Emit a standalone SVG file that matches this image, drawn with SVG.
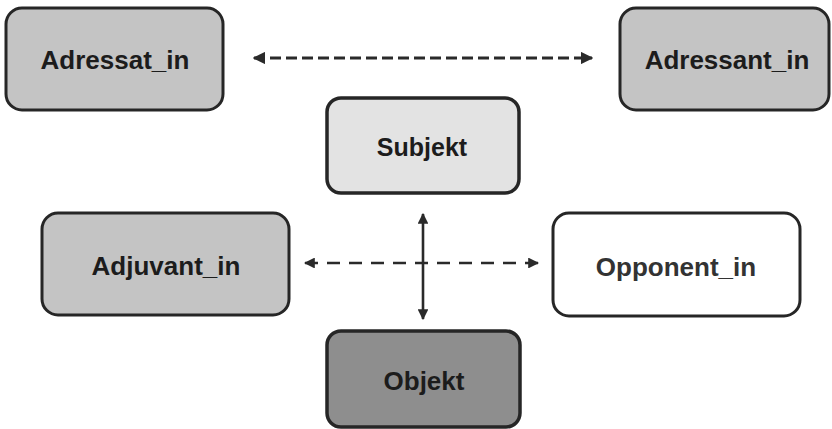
<svg xmlns="http://www.w3.org/2000/svg" width="832" height="429" viewBox="0 0 832 429">
<style>
.box{stroke:#262626;stroke-width:3}
.thick{stroke-width:3.5}
.lbl{font-family:"Liberation Sans",Arial,sans-serif;font-weight:bold;font-size:26px;fill:#1c1c1c;text-anchor:middle;dominant-baseline:central}
.con{stroke:#2a2a2a;fill:none}
</style>
<defs>
<marker id="ah" viewBox="0 0 10 10" refX="9" refY="5" markerWidth="4.2" markerHeight="4.2" orient="auto-start-reverse" markerUnits="strokeWidth">
<path d="M0,0 L10,5 L0,10 z" fill="#2a2a2a"/>
</marker>
</defs>
<rect width="832" height="429" fill="#ffffff"/>
<g id="connectors">
<line class="con" x1="254" y1="58" x2="592" y2="58" stroke-width="3" stroke-dasharray="11,5" marker-start="url(#ah)" marker-end="url(#ah)"/>
<line class="con" x1="305" y1="263" x2="538" y2="263" stroke-width="2.6" stroke-dasharray="13,9" marker-start="url(#ah)" marker-end="url(#ah)"/>
<line class="con" x1="423" y1="214" x2="423" y2="319" stroke-width="2.6" marker-start="url(#ah)" marker-end="url(#ah)"/>
</g>
<g id="adressat">
<rect class="box" x="6" y="8" width="217" height="102" rx="16" fill="#c4c4c4"/>
<text class="lbl" x="115" y="60">Adressat_in</text>
</g>
<g id="adressant">
<rect class="box" x="620" y="8" width="209" height="102" rx="16" fill="#c4c4c4"/>
<text class="lbl" x="727" y="60">Adressant_in</text>
</g>
<g id="subjekt">
<rect class="box thick" x="327" y="98" width="192" height="95" rx="14" fill="#e3e3e3"/>
<text class="lbl" x="422" y="147" style="font-size:25px">Subjekt</text>
</g>
<g id="adjuvant">
<rect class="box" x="42" y="213" width="247" height="102" rx="16" fill="#c4c4c4"/>
<text class="lbl" x="166" y="266">Adjuvant_in</text>
</g>
<g id="opponent">
<rect class="box" x="553" y="213" width="247" height="103" rx="16" fill="#ffffff"/>
<text class="lbl" x="676" y="267" style="fill:#333333">Opponent_in</text>
</g>
<g id="objekt">
<rect class="box thick" x="327" y="331" width="193" height="96" rx="14" fill="#8e8e8e"/>
<text class="lbl" x="424" y="381">Objekt</text>
</g>
</svg>
